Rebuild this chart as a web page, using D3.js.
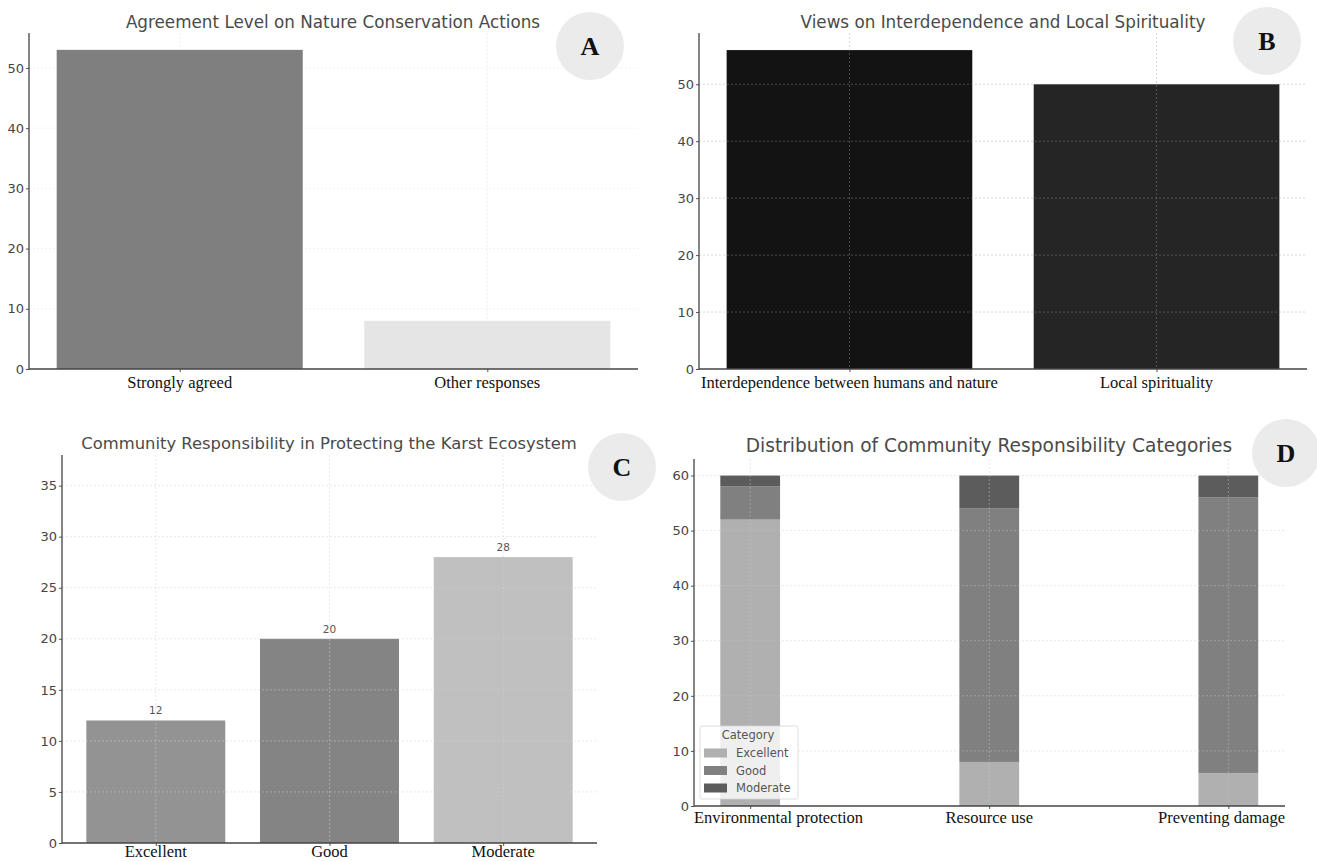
<!DOCTYPE html>
<html>
<head>
<meta charset="utf-8">
<script src="https://cdn.jsdelivr.net/npm/d3@7"></script>
<style>
  html, body { margin: 0; padding: 0; background: #fff; }
  svg { display: block; }
  .tick text { font-family: "DejaVu Sans", sans-serif; fill: #454545; }
</style>
</head>
<body>
<svg id="fig" width="1317" height="861"></svg>
<script>
// ---- Panel A: agreement with nature conservation actions
const agreementCategories = ["Strongly agreed", "Other responses"];
const agreementValues = [53, 8];
const agreementColors = ["#7f7f7f", "#e5e5e5"];
const agreementTicks = [0, 10, 20, 30, 40, 50];

// ---- Panel B: interdependence and local spirituality
const viewsCategories = ["Interdependence between humans and nature", "Local spirituality"];
const viewsValues = [56, 50];
const viewsColors = ["#131313", "#252525"];
const viewsTicks = [0, 10, 20, 30, 40, 50];

// ---- Panel C: community responsibility ratings
const responsibilityCategories = ["Excellent", "Good", "Moderate"];
const responsibilityValues = [12, 20, 28];
const responsibilityColors = ["#939393", "#848484", "#c0c0c0"];
const responsibilityTicks = [0, 5, 10, 15, 20, 25, 30, 35];

// ---- Panel D: stacked categories per responsibility area
const areaCategories = ["Environmental protection", "Resource use", "Preventing damage"];
const stackSeries = ["Excellent", "Good", "Moderate"];
const excellentValues = [52, 8, 6];
const goodValues = [6, 46, 50];
const moderateValues = [2, 6, 4];
const stackColors = ["#b0b0b0", "#808080", "#5c5c5c"];
const areaTicks = [0, 10, 20, 30, 40, 50, 60];

const svg = d3.select("#fig");

// Shared drawing of one subplot frame: scales, grid, axes, title
function makePanel(cfg) {
  const g = svg.append("g");
  const x = d3.scaleLinear().domain(cfg.xDomain).range([cfg.left, cfg.right]);
  const y = d3.scaleLinear().domain([0, cfg.yMax]).range([cfg.bottom, cfg.top]);
  return { g, x, y, cfg };
}

function drawGrid(p, ticks, n, style) {
  const { g, x, y, cfg } = p;
  const grid = g.append("g").attr("class", "grid")
    .attr("stroke", style.color).attr("stroke-opacity", style.opacity)
    .attr("stroke-width", 0.8).attr("stroke-dasharray", "2,2");
  grid.selectAll("line.h").data(ticks.filter(t => t > 0)).join("line")
    .attr("x1", cfg.left).attr("x2", cfg.right)
    .attr("y1", d => y(d)).attr("y2", d => y(d));
  grid.selectAll("line.v").data(d3.range(n)).join("line")
    .attr("x1", d => x(d)).attr("x2", d => x(d))
    .attr("y1", cfg.top).attr("y2", cfg.bottom);
}

function drawAxes(p, ticks, n, tickFont) {
  const { g, x, y, cfg } = p;
  const ya = g.append("g").attr("transform", `translate(${cfg.left},0)`)
    .call(d3.axisLeft(y).tickValues(ticks).tickFormat(d3.format("d"))
      .tickSizeInner(3).tickSizeOuter(0).tickPadding(2));
  ya.select(".domain").remove();
  ya.selectAll(".tick line").attr("stroke", "#555");
  ya.selectAll(".tick text").style("font-size", tickFont + "px");
  const xa = g.append("g").attr("transform", `translate(0,${cfg.bottom})`)
    .call(d3.axisBottom(x).tickValues(d3.range(n)).tickFormat("")
      .tickSizeInner(3).tickSizeOuter(0));
  xa.select(".domain").remove();
  xa.selectAll(".tick line").attr("stroke", "#555");
  g.append("line").attr("x1", cfg.left).attr("x2", cfg.left)
    .attr("y1", cfg.top).attr("y2", cfg.bottom + 0.5)
    .attr("stroke", "#444").attr("stroke-width", 1.3);
  g.append("line").attr("x1", cfg.left).attr("x2", cfg.right)
    .attr("y1", cfg.bottom).attr("y2", cfg.bottom)
    .attr("stroke", "#444").attr("stroke-width", 1.3);
}

function drawTitle(p, text, size) {
  const { g, cfg } = p;
  g.append("text").attr("x", cfg.titleX).attr("y", cfg.titleY)
    .attr("text-anchor", "middle")
    .style("font-family", "'DejaVu Sans', sans-serif")
    .style("font-size", size + "px").attr("fill", "#4a4a4a")
    .text(text);
}

function drawCategoryLabels(p, cats, anchors) {
  const { g, x, cfg } = p;
  g.append("g").selectAll("text").data(cats).join("text")
    .attr("x", (d, i) => anchors[i] === "start" ? cfg.left : anchors[i] === "end" ? cfg.right : x(i))
    .attr("y", cfg.labelY)
    .attr("text-anchor", (d, i) => anchors[i])
    .style("font-family", "'Liberation Serif', 'Times New Roman', serif")
    .style("font-size", "16.5px").attr("fill", "#111")
    .text(d => d);
}

function drawBadge(cx, cy, letter) {
  svg.append("circle").attr("cx", cx).attr("cy", cy).attr("r", 34).attr("fill", "#ebebeb");
  svg.append("text").attr("x", cx).attr("y", cy + 9).attr("text-anchor", "middle")
    .style("font-family", "'Liberation Serif', 'Times New Roman', serif")
    .style("font-weight", "bold").style("font-size", "26px").attr("fill", "#111")
    .text(letter);
}

// ---------- Panel A ----------
{
  const p = makePanel({ left: 29, right: 638, top: 33, bottom: 369, yMax: 55.8,
    xDomain: [-0.49, agreementCategories.length - 1 + 0.49],
    titleX: 333, titleY: 28, labelY: 388 });
  drawGrid(p, agreementTicks, agreementCategories.length, { color: "#dddddd", opacity: 0.5 });
  p.g.append("g").selectAll("rect").data(agreementValues).join("rect")
    .attr("x", (d, i) => p.x(i - 0.4)).attr("width", p.x(0.4) - p.x(-0.4))
    .attr("y", d => p.y(d)).attr("height", d => p.y(0) - p.y(d))
    .attr("fill", (d, i) => agreementColors[i]);
  drawAxes(p, agreementTicks, agreementCategories.length, 13);
  drawTitle(p, "Agreement Level on Nature Conservation Actions", 16.8);
  drawCategoryLabels(p, agreementCategories, ["middle", "middle"]);
}

// ---------- Panel B ----------
{
  const p = makePanel({ left: 699, right: 1307, top: 33, bottom: 369, yMax: 59,
    xDomain: [-0.49, viewsCategories.length - 1 + 0.49],
    titleX: 1003, titleY: 28, labelY: 388 });
  p.g.append("g").selectAll("rect").data(viewsValues).join("rect")
    .attr("x", (d, i) => p.x(i - 0.4)).attr("width", p.x(0.4) - p.x(-0.4))
    .attr("y", d => p.y(d)).attr("height", d => p.y(0) - p.y(d))
    .attr("fill", (d, i) => viewsColors[i]);
  drawGrid(p, viewsTicks, viewsCategories.length, { color: "#9a9a9a", opacity: 0.5 });
  drawAxes(p, viewsTicks, viewsCategories.length, 13);
  drawTitle(p, "Views on Interdependence and Local Spirituality", 16.8);
  drawCategoryLabels(p, viewsCategories, ["middle", "middle"]);
}

// ---------- Panel C ----------
{
  const p = makePanel({ left: 62, right: 597, top: 455, bottom: 843, yMax: 38,
    xDomain: [-0.54, responsibilityCategories.length - 1 + 0.54],
    titleX: 329, titleY: 449, labelY: 857 });
  p.g.append("g").selectAll("rect").data(responsibilityValues).join("rect")
    .attr("x", (d, i) => p.x(i - 0.4)).attr("width", p.x(0.4) - p.x(-0.4))
    .attr("y", d => p.y(d)).attr("height", d => p.y(0) - p.y(d))
    .attr("fill", (d, i) => responsibilityColors[i]);
  drawGrid(p, responsibilityTicks, responsibilityCategories.length, { color: "#d0d0d0", opacity: 0.6 });
  // value annotations above each bar
  p.g.append("g").selectAll("text").data(responsibilityValues).join("text")
    .attr("x", (d, i) => p.x(i)).attr("y", d => p.y(d) - 6)
    .attr("text-anchor", "middle")
    .style("font-family", "'DejaVu Sans', sans-serif").style("font-size", "10.5px")
    .attr("fill", "#555").text(d => d);
  drawAxes(p, responsibilityTicks, responsibilityCategories.length, 13);
  drawTitle(p, "Community Responsibility in Protecting the Karst Ecosystem", 16.4);
  drawCategoryLabels(p, responsibilityCategories, ["middle", "middle", "middle"]);
}

// ---------- Panel D ----------
{
  const p = makePanel({ left: 694, right: 1285, top: 459, bottom: 806, yMax: 63,
    xDomain: [-0.235, areaCategories.length - 1 + 0.237],
    titleX: 989, titleY: 452, labelY: 823 });
  const rows = areaCategories.map((c, i) => ({
    area: c, Excellent: excellentValues[i], Good: goodValues[i], Moderate: moderateValues[i]
  }));
  const stacked = d3.stack().keys(stackSeries)(rows);
  const halfW = 0.125;
  p.g.append("g").selectAll("g").data(stacked).join("g")
    .attr("fill", (d, k) => stackColors[k])
    .selectAll("rect").data(d => d).join("rect")
    .attr("x", (d, i) => p.x(i - halfW)).attr("width", p.x(halfW) - p.x(-halfW))
    .attr("y", d => p.y(d[1])).attr("height", d => p.y(d[0]) - p.y(d[1]));
  drawGrid(p, areaTicks, areaCategories.length, { color: "#c8c8c8", opacity: 0.55 });
  drawAxes(p, areaTicks, areaCategories.length, 13);
  drawTitle(p, "Distribution of Community Responsibility Categories", 18.6);
  drawCategoryLabels(p, areaCategories, ["start", "middle", "end"]);

  // legend
  const lg = p.g.append("g").attr("transform", "translate(700,726)");
  lg.append("rect").attr("width", 98).attr("height", 73).attr("rx", 2)
    .attr("fill", "#fff").attr("fill-opacity", 0.8)
    .attr("stroke", "#d6d6d6").attr("stroke-width", 0.8);
  lg.append("text").attr("x", 48).attr("y", 13).attr("text-anchor", "middle")
    .style("font-family", "'DejaVu Sans', sans-serif").style("font-size", "11.5px")
    .attr("fill", "#555").text("Category");
  const items = lg.selectAll("g.item").data(stackSeries).join("g")
    .attr("transform", (d, k) => `translate(4,${27 + k * 17.5})`);
  items.append("rect").attr("x", 0).attr("y", -4.5).attr("width", 23).attr("height", 9)
    .attr("fill", (d, k) => stackColors[k]);
  items.append("text").attr("x", 32).attr("y", 4)
    .style("font-family", "'DejaVu Sans', sans-serif").style("font-size", "11.5px")
    .attr("fill", "#555").text(d => d);
}

drawBadge(590, 46, "A");
drawBadge(1267, 41, "B");
drawBadge(622, 467, "C");
drawBadge(1286, 453, "D");
</script>
</body>
</html>
